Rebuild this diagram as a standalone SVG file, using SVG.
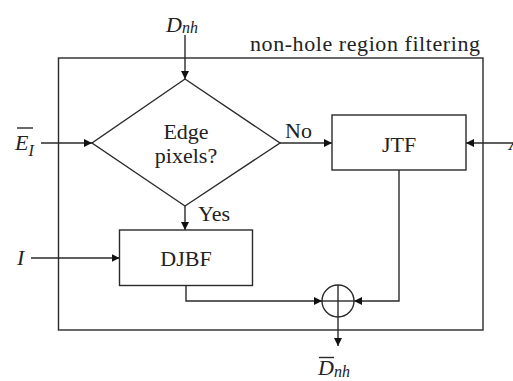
<svg xmlns="http://www.w3.org/2000/svg" width="513" height="381" viewBox="0 0 513 381">
<defs>
<style>
.ln{fill:none;stroke:#2a2a2a;stroke-width:1.4}
.bx{fill:#fff;stroke:#2a2a2a;stroke-width:1.4}
text{font-family:'Liberation Serif','DejaVu Serif',serif;fill:#222}
.t{font-size:22px}
.m{font-style:italic;font-size:22px}
.s{font-style:italic;font-size:16px}
</style>
<marker id="ah" viewBox="0 0 10 10" refX="10" refY="5" markerWidth="8" markerHeight="8" markerUnits="userSpaceOnUse" orient="auto">
<path d="M0,0 L10,5 L0,10 z" fill="#111"/>
</marker>
</defs>
<rect width="513" height="381" fill="#fff"/>
<g id="region">
<rect class="ln" x="58.5" y="58" width="424.5" height="272"/>
<text class="t" x="250" y="51" textLength="230" lengthAdjust="spacing" font-family="Liberation Serif">non-hole region filtering</text>
</g>
<g id="connectors">
<line class="ln" x1="185" y1="35" x2="185" y2="79" marker-end="url(#ah)"/>
<line class="ln" x1="41" y1="143" x2="92" y2="143" marker-end="url(#ah)"/>
<line class="ln" x1="280" y1="143" x2="332" y2="143" marker-end="url(#ah)"/>
<line class="ln" x1="513" y1="143" x2="466" y2="143" marker-end="url(#ah)"/>
<line class="ln" x1="185" y1="206" x2="185" y2="230" marker-end="url(#ah)"/>
<line class="ln" x1="31" y1="258" x2="119.5" y2="258" marker-end="url(#ah)"/>
<polyline class="ln" points="186,285.5 186,301 322,301" marker-end="url(#ah)"/>
<polyline class="ln" points="399,170 399,301 354,301" marker-end="url(#ah)"/>
<line class="ln" x1="338" y1="317" x2="338" y2="346" marker-end="url(#ah)"/>
<text class="t" x="285" y="138">No</text>
<text class="t" x="198" y="221">Yes</text>
</g>
<g id="decision">
<polygon class="bx" points="185,79 280,143 185,206 92,143"/>
<text class="t" x="186" y="139" text-anchor="middle">Edge</text>
<text class="t" x="186" y="163" text-anchor="middle">pixels?</text>
</g>
<g id="jtf">
<rect class="bx" x="332" y="115" width="134" height="55"/>
<text class="t" x="399" y="152" text-anchor="middle">JTF</text>
</g>
<g id="djbf">
<rect class="bx" x="119.5" y="230" width="133" height="55.5"/>
<text class="t" x="186" y="266" text-anchor="middle">DJBF</text>
</g>
<g id="sum">
<circle class="bx" cx="338" cy="301" r="16"/>
<line class="ln" x1="338" y1="285" x2="338" y2="317"/>
<line class="ln" x1="322" y1="301" x2="354" y2="301"/>
</g>
<g id="in-dnh">
<text class="m" x="166" y="32">D<tspan class="s" dy="1">nh</tspan></text>
</g>
<g id="in-e">
<text class="m" x="15" y="150">E<tspan class="s" dy="6" font-size="15">I</tspan></text>
<line class="ln" x1="17" y1="128" x2="33" y2="128" stroke-width="1.2"/>
</g>
<g id="in-i">
<text class="m" x="17" y="265">I</text>
</g>
<g id="in-right">
<text class="m" x="509" y="150">A</text>
</g>
<g id="out-dnh">
<text class="m" x="318" y="375">D<tspan class="s" dy="2">nh</tspan></text>
<line class="ln" x1="319" y1="357.5" x2="334" y2="357.5" stroke-width="1.2"/>
</g>
</svg>
